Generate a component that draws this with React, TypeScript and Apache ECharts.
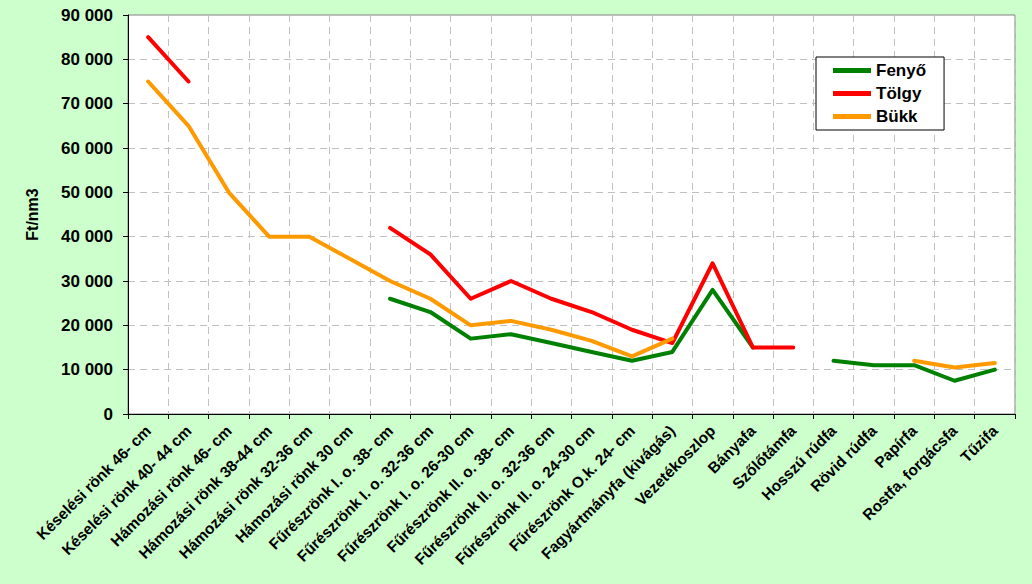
import React, { useEffect, useRef } from "react";
import * as echarts from "echarts";

const categories = [
  "Késelési rönk 46- cm",
  "Késelési rönk 40- 44 cm",
  "Hámozási rönk 46- cm",
  "Hámozási rönk 38-44 cm",
  "Hámozási rönk 32-36 cm",
  "Hámozási rönk 30 cm",
  "Fűrészrönk I. o. 38- cm",
  "Fűrészrönk I. o. 32-36 cm",
  "Fűrészrönk I. o. 26-30 cm",
  "Fűrészrönk II. o. 38- cm",
  "Fűrészrönk II. o. 32-36 cm",
  "Fűrészrönk II. o. 24-30 cm",
  "Fűrészrönk O.k. 24- cm",
  "Fagyártmányfa (kivágás)",
  "Vezetékoszlop",
  "Bányafa",
  "Szőlőtámfa",
  "Hosszú rúdfa",
  "Rövid rúdfa",
  "Papírfa",
  "Rostfa, forgácsfa",
  "Tűzifa",
];

const fenyo = [null, null, null, null, null, null, 26000, 23000, 17000, 18000, 16000, 14000, 12000, 14000, 28000, 15000, null, 12000, 11000, 11000, 7500, 10000];
const tolgy = [85000, 75000, null, null, null, null, 42000, 36000, 26000, 30000, 26000, 23000, 19000, 16000, 34000, 15000, 15000, null, null, null, null, null];
const bukk = [75000, 65000, 50000, 40000, 40000, 35000, 30000, 26000, 20000, 21000, 19000, 16500, 13000, 17000, null, null, null, null, null, 12000, 10500, 11500];

const FONT = 'Arial, "Liberation Sans", sans-serif';

const fmt = (v: number) => String(v).replace(/\B(?=(\d{3})+(?!\d))/g, " ");

export default function App() {
  const ref = useRef<HTMLDivElement>(null);
  useEffect(() => {
    const chart = echarts.init(ref.current!, null, { renderer: "svg" });
    const line = (name: string, data: (number | null)[], color: string) => ({
      name,
      type: "line",
      data,
      symbol: "none",
      showSymbol: false,
      connectNulls: false,
      lineStyle: { color, width: 4, cap: "round", join: "round" },
      itemStyle: { color },
    });
    chart.setOption({
      animation: false,
      backgroundColor: "#CCFFCC",
      textStyle: { fontFamily: FONT },
      grid: {
        left: 128,
        right: 17,
        top: 15,
        bottom: 170,
        show: true,
        backgroundColor: "#FFFFFF",
        borderColor: "#808080",
        borderWidth: 1,
      },
      legend: {
        orient: "vertical",
        left: 816,
        top: 57,
        backgroundColor: "#FFFFFF",
        borderColor: "#000000",
        borderWidth: 1,
        padding: [5, 18, 5, 17],
        itemGap: 6,
        itemWidth: 38,
        itemHeight: 5,
        icon: "rect",
        textStyle: { fontFamily: FONT, fontSize: 17, fontWeight: "bold", color: "#000" },
        data: ["Fenyő", "Tölgy", "Bükk"],
      },
      xAxis: {
        type: "category",
        data: categories,
        boundaryGap: true,
        axisLine: { lineStyle: { color: "#000", width: 1 } },
        axisTick: { show: true, interval: 0, length: 5, lineStyle: { color: "#000" } },
        axisLabel: {
          interval: 0,
          rotate: 45,
          margin: 14,
          fontFamily: FONT,
          fontSize: 15.5,
          fontWeight: "bold",
          color: "#000",
        },
        splitLine: {
          show: true,
          interval: 0,
          lineStyle: { color: "#C0C0C0", type: [7, 5], width: 1 },
        },
      },
      yAxis: {
        type: "value",
        min: 0,
        max: 90000,
        interval: 10000,
        name: "Ft/nm3",
        nameLocation: "middle",
        nameGap: 88,
        nameTextStyle: { fontFamily: FONT, fontSize: 16, fontWeight: "bold", color: "#000" },
        axisLine: { show: true, lineStyle: { color: "#000", width: 1 } },
        axisTick: { show: true, length: 5, lineStyle: { color: "#000" } },
        axisLabel: {
          formatter: (v: number) => fmt(v),
          margin: 15,
          fontFamily: FONT,
          fontSize: 17,
          fontWeight: "bold",
          color: "#000",
        },
        splitLine: { show: true, lineStyle: { color: "#C0C0C0", type: [7, 5], width: 1 } },
      },
      series: [
        line("Fenyő", fenyo, "#008000"),
        line("Tölgy", tolgy, "#FF0000"),
        line("Bükk", bukk, "#FF9900"),
      ],
    });
    return () => chart.dispose();
  }, []);
  return (
    <div
      ref={ref}
      style={{ position: "fixed", left: 0, top: 0, width: 1032, height: 584 }}
    />
  );
}
